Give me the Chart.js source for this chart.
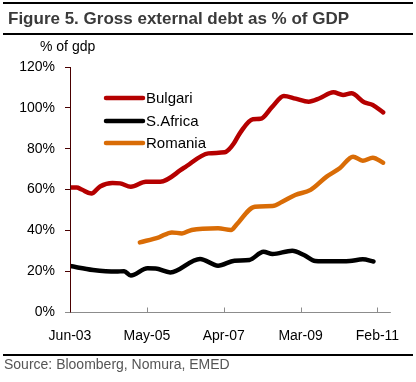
<!DOCTYPE html>
<html><head><meta charset="utf-8">
<script src="https://cdn.jsdelivr.net/npm/chart.js@4"></script>
<style>
html,body{margin:0;padding:0;background:#fff;}
#wrap{position:relative;width:416px;height:382px;overflow:hidden;font-family:"Liberation Sans",Arial,sans-serif;}
canvas{position:absolute;left:0;top:0;}
.rule{position:absolute;left:3px;width:410px;height:0;border-top:2px solid #000;}
#title{position:absolute;left:8px;top:9px;font-weight:bold;font-size:17px;color:#3a3a3a;white-space:nowrap;}
#unit{position:absolute;left:40px;top:38px;font-size:14px;color:#000;white-space:nowrap;}
#source{position:absolute;left:4px;top:356px;font-size:14px;color:#555;white-space:nowrap;}
</style></head>
<body><div id="wrap">
<canvas id="c" width="416" height="382"></canvas>
<div class="rule" style="top:2px"></div>
<div id="title">Figure 5. Gross external debt as % of GDP</div>
<div class="rule" style="top:33px"></div>
<div id="unit">% of gdp</div>
<div class="rule" style="top:354px;border-top-width:2px"></div>
<div id="source">Source: Bloomberg, Nomura, EMED</div>
</div>
<script>
// month index 0 = Jun-03
const tickMonths = [0, 23, 46, 69, 92];
const tickLabels = ["Jun-03", "May-05", "Apr-07", "Mar-09", "Feb-11"];
const yTicks = [0, 20, 40, 60, 80, 100, 120];

const bulgariMonths = [0, 2, 3.5, 6.4, 9, 12.7, 15, 18.2, 22.7, 27, 34, 41.4, 46.3, 47.5, 49, 51, 54.7, 57, 60.5, 64, 67.5, 71.4, 74.7, 78.8, 81.7, 84.2, 88, 90.6, 93.7];
const bulgariValues = [61, 61, 60, 58, 61.5, 63.2, 63, 61.4, 63.8, 63.8, 70.5, 77.7, 78.2, 79.5, 82.5, 88, 94.4, 94.6, 100.5, 105.8, 104.5, 103, 104.7, 107.6, 106.3, 107.1, 102.7, 101.4, 97.8];

const safricaMonths = [0, 6.9, 13.8, 16.2, 18.2, 23.2, 25.6, 30, 38.9, 44.3, 49.2, 53.7, 57.9, 60.6, 66.5, 70, 73.4, 78, 83.7, 87.6, 90.8];
const safricaValues = [22.5, 20.6, 19.8, 20, 17.9, 21.4, 21.3, 19.4, 26, 22.7, 25.1, 25.5, 29.5, 28.4, 30, 27.9, 25, 24.8, 25, 25.8, 24.7];

const romaniaMonths = [20.9, 26.6, 30.5, 33.5, 36.4, 44.3, 48.2, 49.7, 55.3, 60.6, 63.5, 67.4, 72, 76.8, 80.7, 84.7, 87.6, 90.6, 93.7];
const romaniaValues = [34.1, 36.6, 39, 38.5, 40.2, 41, 40.2, 42.6, 51.6, 51.9, 54, 57.3, 59.8, 66.3, 70.4, 76.1, 74.1, 75.6, 73.1];

const seriesNames = ["Bulgari", "S.Africa", "Romania"];
const seriesColors = ["#b50000", "#000000", "#d96c06"];

function pts(ms, vs){ return ms.map((m,i)=>({x:m, y:vs[i]})); }

const legendPlugin = {
  id: 'inLegend',
  afterDatasetsDraw(chart){
    const ctx = chart.ctx;
    ctx.save();
    const ys = [98, 121, 143];
    chart.data.datasets.forEach((ds, i) => {
      ctx.strokeStyle = ds.borderColor;
      ctx.lineWidth = 4.5;
      ctx.lineCap = 'round';
      ctx.beginPath(); ctx.moveTo(106, ys[i]); ctx.lineTo(143, ys[i]); ctx.stroke();
      ctx.fillStyle = '#000';
      ctx.font = '15px "Liberation Sans", Arial, sans-serif';
      ctx.textBaseline = 'middle';
      ctx.fillText(ds.label, 146, ys[i] + 1);
    });
    ctx.restore();
  },
  afterDraw(chart){
    const ctx = chart.ctx, xs = chart.scales.x, ys = chart.scales.y;
    ctx.save();
    ctx.strokeStyle = '#8c8c8c'; ctx.lineWidth = 1;
    const yb = Math.round(ys.getPixelForValue(0)) + 0.5;
    ctx.beginPath(); ctx.moveTo(chart.chartArea.left - 5, yb); ctx.lineTo(chart.chartArea.right, yb); ctx.stroke();
    tickMonths.forEach(m => {
      const px = Math.round(xs.getPixelForValue(m)) + 0.5;
      if (m === 0) return;
      ctx.beginPath(); ctx.moveTo(px, yb); ctx.lineTo(px, yb - 5); ctx.stroke();
    });
    ctx.strokeStyle = '#4a0000';
    const xl = Math.round(chart.chartArea.left) + 0.5;
    ctx.beginPath(); ctx.moveTo(xl, ys.getPixelForValue(120)); ctx.lineTo(xl, yb); ctx.stroke();
    ctx.restore();
  }
};

new Chart(document.getElementById('c'), {
  type: 'line',
  data: {
    datasets: [
      {label: seriesNames[0], data: pts(bulgariMonths, bulgariValues), borderColor: seriesColors[0]},
      {label: seriesNames[1], data: pts(safricaMonths, safricaValues), borderColor: seriesColors[1]},
      {label: seriesNames[2], data: pts(romaniaMonths, romaniaValues), borderColor: seriesColors[2]}
    ]
  },
  options: {
    responsive: false, animation: false,
    layout: {padding: {top: 67, left: 0, right: 21, bottom: 0}},
    elements: {
      line: {borderWidth: 4.5, tension: 0.4, cubicInterpolationMode: 'monotone', fill: false, borderCapStyle: 'round', borderJoinStyle: 'round'},
      point: {radius: 0, hoverRadius: 0}
    },
    plugins: {legend: {display: false}, tooltip: {enabled: false}},
    scales: {
      x: {
        type: 'linear', min: 0, max: 96,
        afterBuildTicks(s){ s.ticks = tickMonths.map(v => ({value: v})); },
        afterFit(s){ s.height = 70; },
        grid: {display: true, drawOnChartArea: false, drawTicks: false, color: 'rgba(0,0,0,0)'},
        border: {display: false},
        ticks: {
          padding: 16, maxRotation: 0, autoSkip: false, color: '#000',
          font: {size: 14, family: '"Liberation Sans", Arial, sans-serif'},
          callback(v){ const k = tickMonths.indexOf(v); return k >= 0 ? tickLabels[k] : ''; }
        }
      },
      y: {
        min: 0, max: 120,
        afterBuildTicks(s){ s.ticks = yTicks.map(v => ({value: v})); },
        afterFit(s){ s.width = 70; },
        grid: {drawOnChartArea: false, drawTicks: true, tickLength: 5, color: '#4a0000'},
        border: {display: false},
        ticks: {
          padding: 10, color: '#000',
          font: {size: 14, family: '"Liberation Sans", Arial, sans-serif'},
          callback(v){ return v + '%'; }
        }
      }
    }
  },
  plugins: [legendPlugin]
});
</script>
</body></html>
